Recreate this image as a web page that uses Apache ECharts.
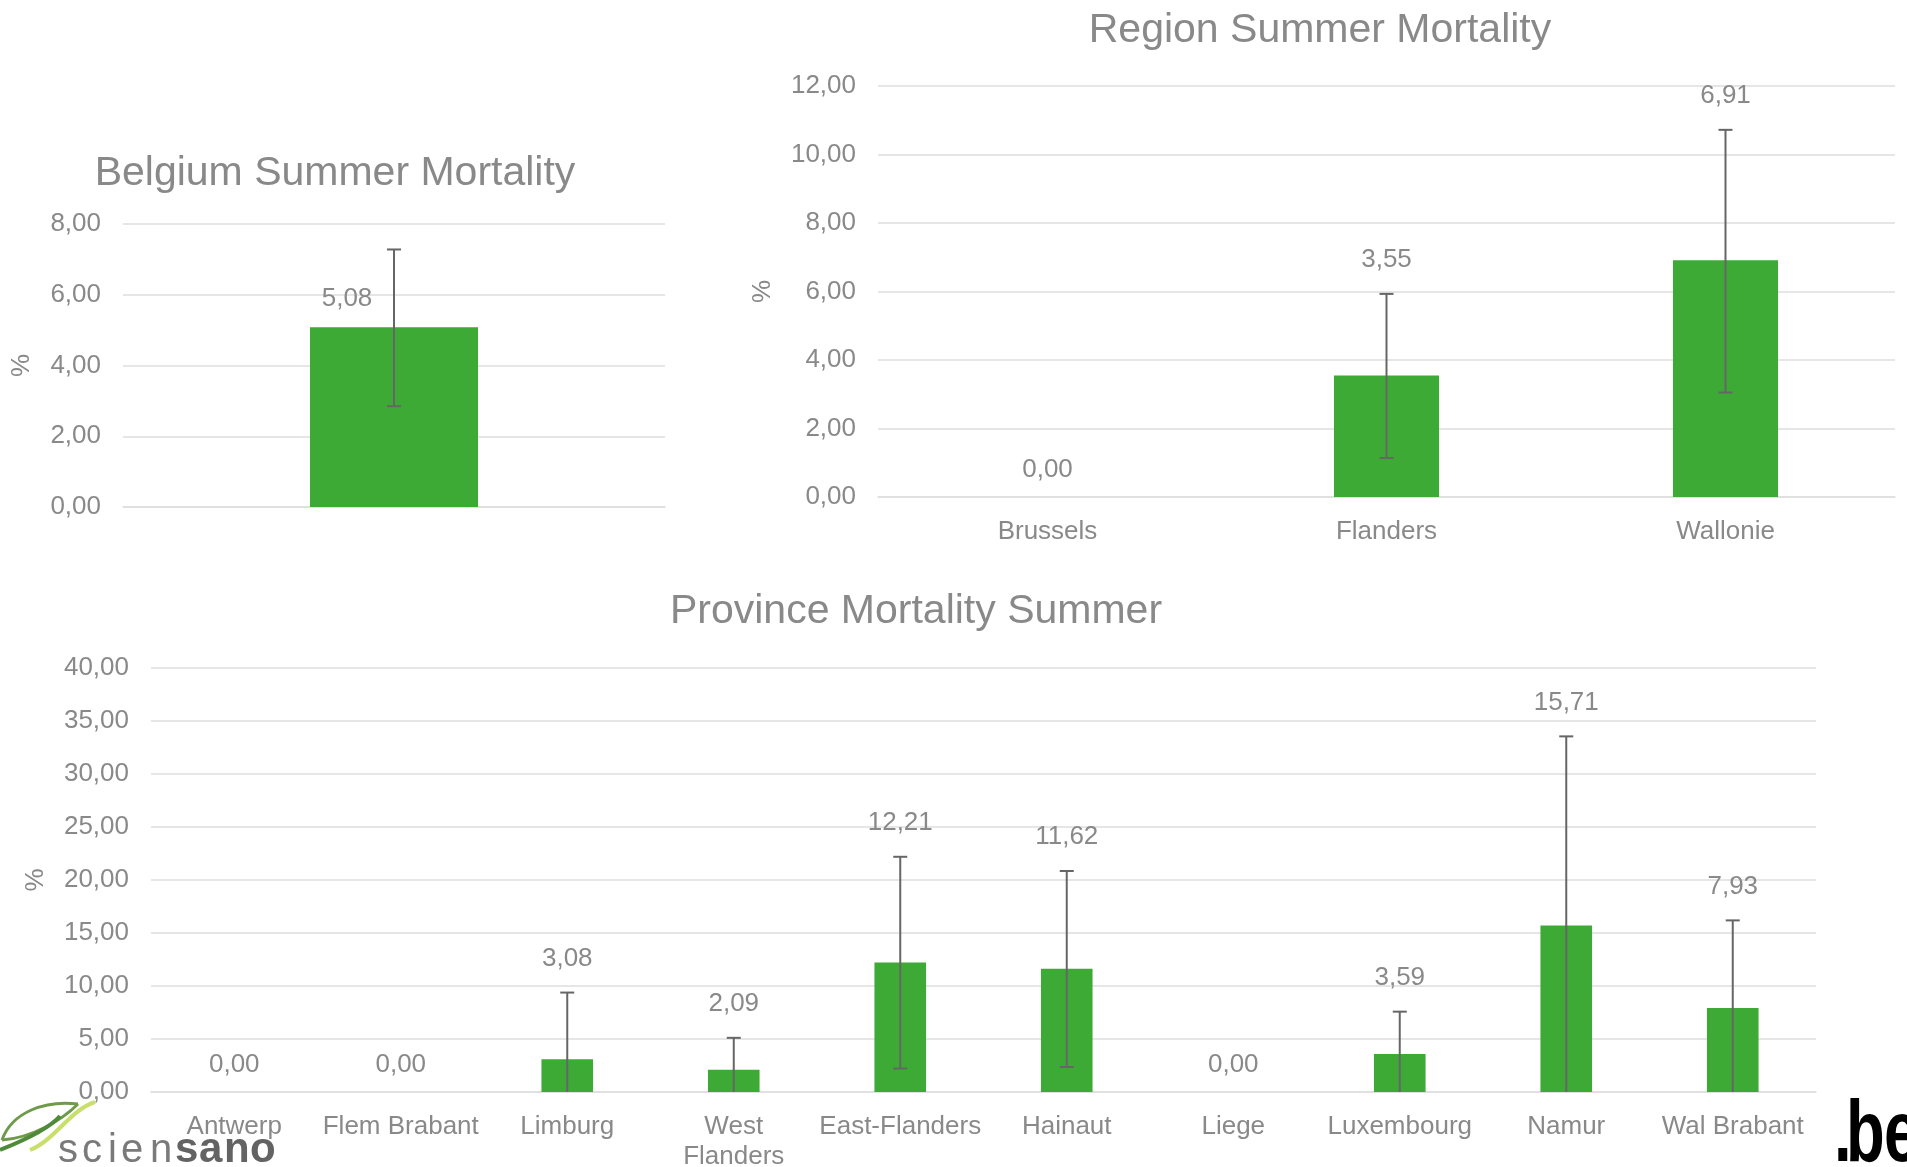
<!DOCTYPE html>
<html>
<head>
<meta charset="utf-8">
<script src="https://cdn.jsdelivr.net/npm/echarts@6/dist/echarts.min.js"></script>
<style>
html,body{margin:0;padding:0;background:#fff;}
#chart{width:1907px;height:1167px;}
</style>
</head>
<body>
<div id="chart"></div>
<script>
// ---- Data ----
const belgiumCategories = [''];
const belgiumValues = [5.08];
const belgiumUpper = [7.28];
const belgiumLower = [2.85];

const regionCategories = ['Brussels', 'Flanders', 'Wallonie'];
const regionValues = [0.00, 3.55, 6.91];
const regionUpper = [0.00, 5.93, 10.72];
const regionLower = [0.00, 1.14, 3.05];

const provinceCategories = ['Antwerp', 'Flem Brabant', 'Limburg', 'West\nFlanders', 'East-Flanders', 'Hainaut', 'Liege', 'Luxembourg', 'Namur', 'Wal Brabant'];
const provinceValues = [0.00, 0.00, 3.08, 2.09, 12.21, 11.62, 0.00, 3.59, 15.71, 7.93];
const provinceUpper = [0.00, 0.00, 9.38, 5.11, 22.19, 20.85, 0.00, 7.58, 33.55, 16.19];
const provinceLower = [0.00, 0.00, 0.00, 0.00, 2.22, 2.36, 0.00, 0.00, 0.00, 0.00];

// ---- Style ----
const FONT = '"Liberation Sans", Arial, sans-serif';
const TXT = '#898989';
const GRID = '#dedede';
const GREEN = '#3daa35';
const ERR = '#666666';

const fmt = v => Number(v).toFixed(2).replace('.', ',');

function errRender(vals, ups, los, mode) {
  return function (params, api) {
    const i = params.dataIndex;
    const v = vals[i], up = ups[i], lo = los[i];
    const pV = api.coord([i, v]);
    const pU = api.coord([i, up]);
    const pL = api.coord([i, lo]);
    const st = { stroke: ERR, lineWidth: 2 };
    const cap = 7;
    const ch = [];
    if (up > v) {
      ch.push({ type: 'line', shape: { x1: pU[0], y1: pU[1], x2: pL[0], y2: pL[1] }, style: st });
      ch.push({ type: 'line', shape: { x1: pU[0] - cap, y1: pU[1], x2: pU[0] + cap, y2: pU[1] }, style: st });
      if (lo > 0) {
        ch.push({ type: 'line', shape: { x1: pL[0] - cap, y1: pL[1], x2: pL[0] + cap, y2: pL[1] }, style: st });
      }
    }
    let lx = pV[0], ly;
    if (mode === 'left') {
      lx = pV[0] - 47;
      ly = pV[1] - 28;
    } else if (up > v) {
      ly = pU[1] - 34;
    } else {
      ly = pV[1] - 27;
    }
    ch.push({
      type: 'text',
      style: { text: fmt(v), x: lx, y: ly, align: 'center', verticalAlign: 'middle', fill: TXT, fontSize: 26, fontFamily: FONT }
    });
    return { type: 'group', children: ch };
  };
}

function yAxisCfg(gi, max, interval, gap) {
  return {
    type: 'value', gridIndex: gi, min: 0, max: max, interval: interval,
    name: '%', nameLocation: 'middle', nameGap: gap, nameRotate: 90,
    nameTextStyle: { color: TXT, fontSize: 26, fontFamily: FONT },
    axisLine: { show: false }, axisTick: { show: false },
    axisLabel: { color: TXT, fontSize: 26, fontFamily: FONT, margin: 22, formatter: fmt },
    splitLine: { lineStyle: { color: GRID, width: 1.5 } }
  };
}
function xAxisCfg(gi, cats, showLabels, margin) {
  return {
    type: 'category', gridIndex: gi, data: cats,
    axisLine: { lineStyle: { color: GRID, width: 1.5 } },
    axisTick: { show: false },
    axisLabel: { show: showLabels, color: TXT, fontSize: 26, fontFamily: FONT, margin: margin, lineHeight: 30, interval: 0 }
  };
}

const chart = echarts.init(document.getElementById('chart'), null, { renderer: 'canvas' });
const titleStyle = { color: TXT, fontSize: 41, fontWeight: 'normal', fontFamily: FONT };
const LOGO_FONT = '"Liberation Sans", Arial, sans-serif';

function letters(str, xs, y, font, fill) {
  return str.split('').map((c, k) => ({ type: 'text', style: { text: c, x: xs[k], y: y, verticalAlign: 'bottom', fill: fill, font: font } }));
}

chart.setOption({
  backgroundColor: '#ffffff',
  animation: false,
  title: [
    { text: 'Belgium Summer Mortality', left: 330, top: 148, textAlign: 'center', textStyle: titleStyle },
    { text: 'Region Summer Mortality', left: 1315, top: 5, textAlign: 'center', textStyle: titleStyle },
    { text: 'Province Mortality Summer', left: 911, top: 586, textAlign: 'center', textStyle: titleStyle }
  ],
  grid: [
    { left: 123, right: 1242, top: 224, bottom: 660, containLabel: false, outerBoundsMode: 'none' },
    { left: 878, right: 12, top: 86, bottom: 670, containLabel: false, outerBoundsMode: 'none' },
    { left: 151, right: 91, top: 668, bottom: 75, containLabel: false, outerBoundsMode: 'none' }
  ],
  xAxis: [
    xAxisCfg(0, belgiumCategories, false, 20),
    xAxisCfg(1, regionCategories, true, 20),
    xAxisCfg(2, provinceCategories, true, 20)
  ],
  yAxis: [
    yAxisCfg(0, 8, 2, 88),
    yAxisCfg(1, 12, 2, 102),
    yAxisCfg(2, 40, 5, 102)
  ],
  series: [
    { type: 'bar', xAxisIndex: 0, yAxisIndex: 0, data: belgiumValues, barWidth: '31%', itemStyle: { color: GREEN } },
    { type: 'bar', xAxisIndex: 1, yAxisIndex: 1, data: regionValues, barWidth: '31%', itemStyle: { color: GREEN } },
    { type: 'bar', xAxisIndex: 2, yAxisIndex: 2, data: provinceValues, barWidth: '31%', itemStyle: { color: GREEN } },
    { type: 'custom', xAxisIndex: 0, yAxisIndex: 0, z: 5, data: belgiumValues.map((v, i) => [i, v]), renderItem: errRender(belgiumValues, belgiumUpper, belgiumLower, 'left') },
    { type: 'custom', xAxisIndex: 1, yAxisIndex: 1, z: 5, data: regionValues.map((v, i) => [i, v]), renderItem: errRender(regionValues, regionUpper, regionLower, 'top') },
    { type: 'custom', xAxisIndex: 2, yAxisIndex: 2, z: 5, data: provinceValues.map((v, i) => [i, v]), renderItem: errRender(provinceValues, provinceUpper, provinceLower, 'top') }
  ],
  graphic: [
    // sciensano logo (decorative)
    { type: 'bezierCurve', shape: { x1: 2, y1: 1140, cpx1: 12, cpy1: 1112, cpx2: 45, cpy2: 1100, x2: 78, y2: 1104 }, style: { fill: 'none', stroke: '#6f9a4a', lineWidth: 3 } },
    { type: 'bezierCurve', shape: { x1: 78, y1: 1104, cpx1: 62, cpy1: 1120, cpx2: 32, cpy2: 1138, x2: 2, y2: 1140 }, style: { fill: 'none', stroke: '#6f9a4a', lineWidth: 3 } },
    { type: 'bezierCurve', shape: { x1: 0, y1: 1150, cpx1: 25, cpy1: 1140, cpx2: 50, cpy2: 1128, x2: 60, y2: 1116 }, style: { fill: 'none', stroke: '#4f8a3a', lineWidth: 4 } },
    { type: 'bezierCurve', shape: { x1: 30, y1: 1150, cpx1: 55, cpy1: 1140, cpx2: 70, cpy2: 1110, x2: 95, y2: 1102 }, style: { fill: 'none', stroke: '#c8df6a', lineWidth: 4 } },
    ...letters('scien', [58, 82, 108, 121, 150], 1171, '40px ' + LOGO_FONT, '#7a7a7a'),
    ...letters('sano', [175, 199, 224, 250], 1171, 'bold 42px ' + LOGO_FONT, '#636363'),
    // .be logo (decorative)
    { type: 'text', x: 1834, y: 1181, scaleX: 0.72, style: { text: '.', x: 0, y: 0, verticalAlign: 'bottom', fill: '#000', font: 'bold 88px ' + LOGO_FONT } },
    { type: 'text', x: 1846, y: 1181, scaleX: 0.72, style: { text: 'b', x: 0, y: 0, verticalAlign: 'bottom', fill: '#000', font: 'bold 88px ' + LOGO_FONT } },
    { type: 'text', x: 1884, y: 1181, scaleX: 0.72, style: { text: 'e', x: 0, y: 0, verticalAlign: 'bottom', fill: '#000', font: 'bold 88px ' + LOGO_FONT } }
  ]
});
</script>
</body>
</html>
